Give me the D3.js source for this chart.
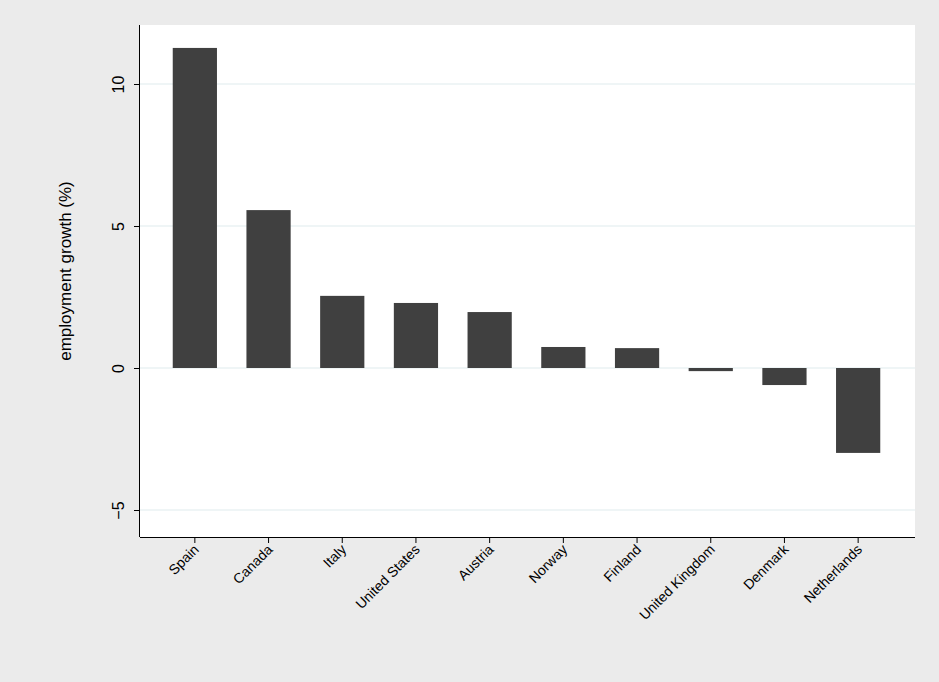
<!DOCTYPE html>
<html><head><meta charset="utf-8">
<script src="https://cdn.jsdelivr.net/npm/d3@7"></script>
<style>body{margin:0;background:#ebebeb}text{font-family:Arial,"Liberation Sans",sans-serif}</style>
</head><body><div id="chart"></div>
<script>
const countries = ["Spain","Canada","Italy","United States","Austria","Norway","Finland","United Kingdom","Denmark","Netherlands"];
const growth = [11.27, 5.56, 2.54, 2.29, 1.97, 0.74, 0.70, -0.11, -0.6, -2.99];
const yTicks = [-5, 0, 5, 10];

const width = 939, height = 682;
const plotLeft = 140, plotRight = 915, plotTop = 25, plotBottom = 537;

const svg = d3.select("#chart").append("svg")
  .attr("width", width).attr("height", height);
svg.append("rect").attr("width", width).attr("height", height).attr("fill", "#ebebeb");
svg.append("rect").attr("x", plotLeft).attr("y", plotTop).attr("width", plotRight - plotLeft).attr("height", plotBottom - plotTop).attr("fill", "#fff");

const y = d3.scaleLinear().domain([-5, 10]).range([510, 84]);
const x = d3.scaleBand().domain(countries).range([158, 895]).paddingInner(0.4).paddingOuter(0.2);

// gridlines
svg.selectAll(".grid").data(yTicks).enter().append("line")
  .attr("x1", plotLeft).attr("x2", plotRight)
  .attr("y1", d => y(d)).attr("y2", d => y(d))
  .attr("stroke", "#eaf2f3").attr("stroke-width", 1.5);

svg.selectAll(".bar").data(growth).enter().append("rect")
  .attr("x", (d, i) => x(countries[i]))
  .attr("width", x.bandwidth())
  .attr("y", d => y(Math.max(0, d)))
  .attr("height", d => Math.abs(y(d) - y(0)))
  .attr("fill", "#404040");

// y axis
const yAxis = svg.append("g").attr("transform", `translate(${plotLeft},0)`)
  .call(d3.axisLeft(y).tickValues(yTicks).tickSize(6).tickFormat(d3.format("d")));
yAxis.select(".domain").attr("d", `M-0.5,${plotTop}V${plotBottom}`).attr("stroke", "#000");
yAxis.selectAll(".tick text")
  .attr("transform", "rotate(-90)").attr("x", 0).attr("y", -22)
  .attr("dy", "0.35em").attr("text-anchor", "middle")
  .attr("font-size", 16).attr("fill", "#000");

// x axis
const xAxis = svg.append("g").attr("transform", `translate(0,${plotBottom})`)
  .call(d3.axisBottom(x).tickSize(6));
xAxis.select(".domain").attr("d", `M${plotLeft},0.5H${plotRight}`).attr("stroke", "#000");
xAxis.selectAll(".tick text")
  .attr("transform", "rotate(-45)").attr("x", -6).attr("y", 8)
  .attr("dy", "0.35em").attr("text-anchor", "end")
  .attr("font-size", 14).attr("fill", "#000");

svg.append("text").attr("transform", `translate(71,${(plotTop + plotBottom) / 2 - 10}) rotate(-90)`)
  .attr("text-anchor", "middle").attr("font-size", 17).text("employment growth (%)");
</script></body></html>
